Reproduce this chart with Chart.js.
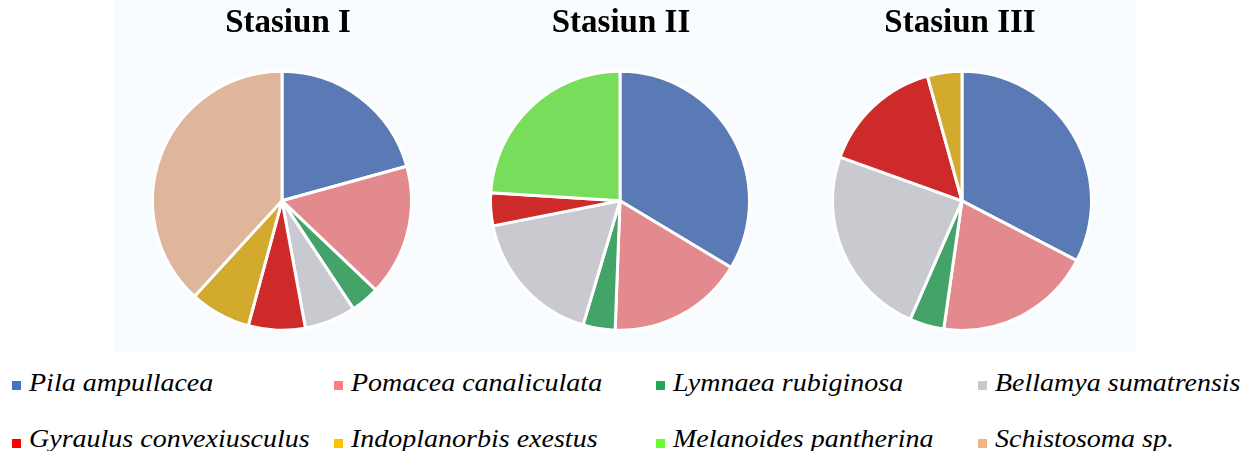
<!DOCTYPE html>
<html>
<head>
<meta charset="utf-8">
<script src="https://cdn.jsdelivr.net/npm/chart.js@4"></script>
<style>
  html, body { margin: 0; padding: 0; background: #ffffff; }
  body { position: relative; width: 1254px; height: 451px; overflow: hidden; }
  #panel { position: absolute; left: 114px; top: 0; width: 1021px; height: 352px; background: #f8fcfe; }
  .pie { position: absolute; top: 0; }
  .mark { position: absolute; width: 9px; height: 9px; }
  .name { position: absolute; font-family: 'Liberation Serif', 'Times New Roman', 'DejaVu Serif', serif;
          font-style: italic; font-size: 25px; line-height: 25px;
          transform: scaleX(1.12); transform-origin: 0 0;
          color: #000; white-space: nowrap; }
</style>
</head>
<body>
<div id="panel"></div>
<canvas id="pie1" class="pie" width="300" height="340" style="left:132px"></canvas>
<canvas id="pie2" class="pie" width="300" height="340" style="left:470px"></canvas>
<canvas id="pie3" class="pie" width="300" height="340" style="left:812px"></canvas>
<div id="legend"></div>
<script>
// Snail species found at the three stations
const species = [
  'Pila ampullacea', 'Pomacea canaliculata', 'Lymnaea rubiginosa', 'Bellamya sumatrensis',
  'Gyraulus convexiusculus', 'Indoplanorbis exestus', 'Melanoides pantherina', 'Schistosoma sp.'
];
// Relative abundance (%) per station, in species order
const stasiunI   = [20.7, 16.4, 3.6, 6.4, 7.1, 7.6, 0, 38.2];
const stasiunII  = [33.6, 17.0, 4.0, 17.3, 4.1, 0, 24.0, 0];
const stasiunIII = [32.6, 19.6, 4.3, 23.9, 15.2, 4.3, 0, 0];
const stationTitles = ['Stasiun I', 'Stasiun II', 'Stasiun III'];

const sliceColors  = ['#5a7ab5', '#e28a8e', '#44a368', '#c8cacf', '#ce2a2a', '#d2aa2d', '#78dd5a', '#dfb59b'];
const legendColors = ['#4472c4', '#ff7c80', '#22a752', '#c9c9c9', '#ff0000', '#ffc000', '#66ff33', '#f4b183'];

// Nudges a chart's title horizontally after layout
const titleShift = {
  id: 'titleShift',
  afterLayout(chart, args, opts) {
    const tb = chart.titleBlock;
    if (tb && opts.dx) { tb.left += opts.dx; tb.right += opts.dx; }
  }
};

function drawPie(id, title, values, dx) {
  new Chart(document.getElementById(id), {
    type: 'pie',
    plugins: [titleShift],
    data: {
      labels: species,
      datasets: [{
        data: values,
        backgroundColor: sliceColors,
        borderColor: '#ffffff',
        borderWidth: 3
      }]
    },
    options: {
      responsive: false,
      animation: false,
      events: [],
      layout: { padding: { left: 19, right: 19, top: 0, bottom: 8 } },
      plugins: {
        legend: { display: false },
        tooltip: { enabled: false },
        titleShift: { dx: dx },
        title: {
          display: true,
          text: title,
          color: '#000000',
          font: { family: "'Liberation Serif', 'Times New Roman', serif", size: 33, weight: 'bold' },
          padding: { top: 4, bottom: 26 }
        }
      }
    }
  });
}

drawPie('pie1', stationTitles[0], stasiunI, 6);
drawPie('pie2', stationTitles[1], stasiunII, 1);
drawPie('pie3', stationTitles[2], stasiunIII, -2);

// Shared legend: four columns, two rows
const legend = document.getElementById('legend');
species.forEach((name, i) => {
  const col = i % 4, row = Math.floor(i / 4);
  const x = 12 + col * 322;
  const markTop = row === 0 ? 381 : 439;
  const baseline = row === 0 ? 391 : 447;
  const m = document.createElement('div');
  m.className = 'mark';
  m.style.left = x + 'px';
  m.style.top = markTop + 'px';
  m.style.background = legendColors[i];
  legend.appendChild(m);
  const t = document.createElement('div');
  t.className = 'name';
  t.style.left = (x + 17) + 'px';
  t.style.top = (baseline - 21) + 'px';
  t.textContent = name;
  legend.appendChild(t);
});
</script>
</body>
</html>
